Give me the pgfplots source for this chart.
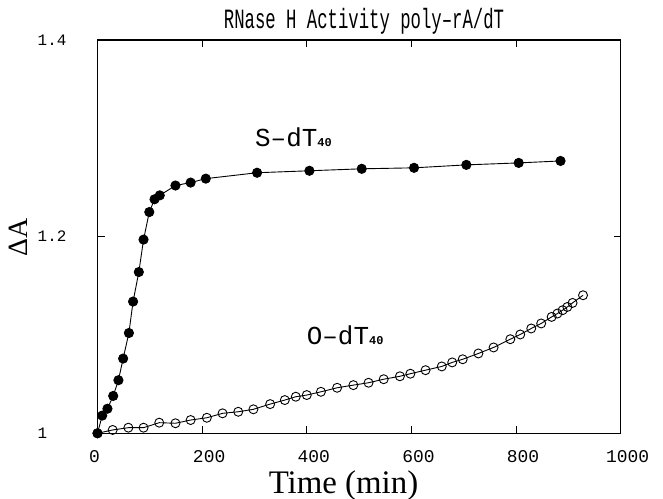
\documentclass[border=0pt]{standalone}
\usepackage{graphicx}
\usepackage{fontspec}
\setmainfont{Liberation Serif}
\newfontfamily\monof{Liberation Mono}
\usepackage{pgfplots}
\pgfplotsset{compat=1.18}
\begin{document}
\begin{tikzpicture}
\path[use as bounding box] (-97.5bp,-65.7bp) rectangle (565.5bp,433.3bp);
\begin{axis}[
  scale only axis,
  width=523.2bp, height=393.3bp,
  xmin=0, xmax=1000, ymin=1, ymax=1.4,
  xtick={200,400,...,1000}, ytick={1,1.2,1.4},
  extra x ticks={0},
  extra x tick style={xticklabel style={xshift=-10bp}},
  tick align=inside,
  major tick length=7bp,
  axis line style={line width=1.1bp},
  every tick/.style={black, line width=1bp},
  /pgf/number format/assume math mode=true,
  /pgf/number format/1000 sep={},
  xticklabel style={font=\fontsize{18}{18}\monof, anchor=base, inner sep=0pt, yshift=-29.5bp, xshift=7bp},
  yticklabel style={font=\fontsize{16}{16}\monof, anchor=west, inner sep=0pt, xshift=-60bp},
  clip=false,
]
\addplot[black, line width=0.9bp, mark=o, mark size=4.5bp, mark options={line width=0.9bp, fill=none}] coordinates {
(0,1.000) (29,1.0034) (59,1.0057) (88,1.0057) (118,1.0108) (149,1.0102) (178,1.0135) (209,1.0158)
(239,1.0203) (269,1.0219) (298,1.0244) (330,1.0297) (358,1.0338) (379,1.0372) (400,1.0389)
(427,1.0422) (458,1.0463) (489,1.0490) (518,1.0514) (547,1.0550) (578,1.0580) (598,1.0606)
(627,1.0642) (658,1.0680) (678,1.0721) (698,1.0753) (728,1.0812) (757,1.0873) (789,1.0957)
(808,1.1005) (829,1.1066) (848,1.1117) (868,1.1184) (879,1.1218) (889,1.1252) (898,1.1285)
(908,1.1326) (928,1.1404)
};
\addplot[black, line width=0.9bp, mark=*, mark size=4.6bp, mark options={fill=black}] coordinates {
(0,1.000) (9,1.018) (19,1.025) (30,1.038) (40,1.054) (49,1.076) (60,1.102) (68,1.134)
(79,1.164) (88,1.197) (99,1.225) (109,1.238) (119,1.242) (149,1.252) (178,1.255) (207,1.259)
(305,1.265) (405,1.267) (505,1.269) (605,1.270) (705,1.273) (805,1.275) (885,1.277)
};
\end{axis}
\node[anchor=base] at (266.5bp,405bp) {\scalebox{0.62}[1]{\fontsize{28}{28}\selectfont\monof RNase H Activity poly–rA/dT}};
\node[anchor=base, inner sep=0pt] at (246bp,-59.7bp) {\fontsize{33}{33}\selectfont Time (min)};
\node[rotate=90] at (-79.5bp,196bp) {\fontsize{28}{28}\selectfont ΔA};
\node[anchor=base west, inner sep=0pt] at (157.5bp,286.3bp) {\fontsize{26}{26}\selectfont\monof S–dT{\fontsize{12}{12}\selectfont\bfseries 40}};
\node[anchor=base west, inner sep=0pt] at (209.2bp,88.3bp) {\fontsize{26}{26}\selectfont\monof O–dT{\fontsize{12}{12}\selectfont\bfseries 40}};
\end{tikzpicture}
\end{document}
